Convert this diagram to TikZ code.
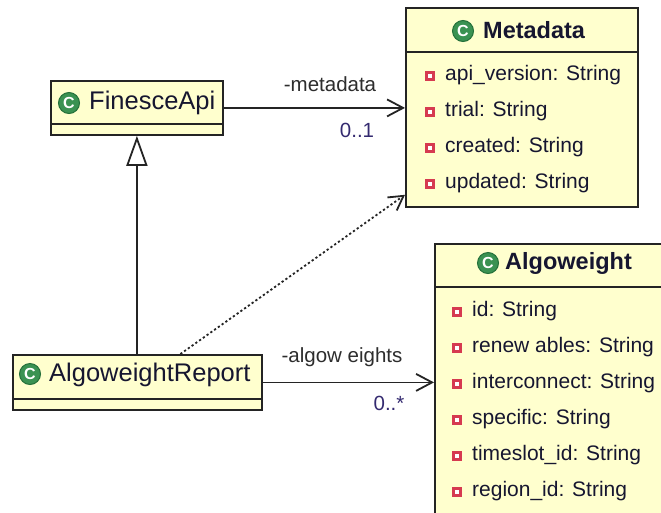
\documentclass[tikz,border=0pt]{standalone}
\usepackage{fontspec}
\setmainfont{Liberation Sans}
\usetikzlibrary{arrows.meta,calc}
\definecolor{boxfill}{RGB}{255,255,206}
\definecolor{boxline}{RGB}{36,36,36}
\definecolor{icongreen}{RGB}{58,146,82}
\definecolor{icondark}{RGB}{36,112,58}
\definecolor{attrred}{RGB}{214,58,80}
\definecolor{txt}{RGB}{22,22,48}
\definecolor{lbl}{RGB}{45,45,45}
\definecolor{mult}{RGB}{52,42,112}
\tikzset{
  classbox/.style={draw=boxline, fill=boxfill, line width=1.8pt, inner sep=0pt, anchor=north west},
  sepline/.style={draw=boxline, line width=1.8pt},
  titletext/.style={anchor=west, inner sep=0pt, text=txt, font=\fontsize{25.5}{30}\selectfont},
  boldtitle/.style={anchor=west, inner sep=0pt, text=txt, font=\fontsize{23.5}{28}\selectfont\bfseries},
  attrtext/.style={anchor=west, inner sep=0pt, text=txt, font=\fontsize{21}{25}\selectfont},
  lbltext/.style={inner sep=0pt, text=lbl, font=\fontsize{20.5}{25}\selectfont},
  multtext/.style={inner sep=0pt, text=mult, font=\fontsize{20.5}{25}\selectfont},
  classicon/.style={circle, fill=icongreen, draw=icondark, line width=1pt, minimum size=21pt, inner sep=0pt, text=white, font=\fontsize{16}{16}\selectfont\bfseries},
  attricon/.style={rectangle, fill=attrred, minimum size=10pt, inner sep=0pt,
    path picture={\fill[white] ([xshift=-2pt,yshift=-2pt]path picture bounding box.center) rectangle ([xshift=2pt,yshift=2pt]path picture bounding box.center);}},
  assoc/.style={draw=boxline, line width=1.8pt, -{Straight Barb[length=16pt,width=17pt,line width=1.8pt]}},
  generalize/.style={draw=boxline, line width=1.8pt, -{Triangle[open,length=30pt,width=21pt,line width=1.8pt,fill=white]}},
  depend/.style={draw=boxline, line width=1.8pt, dash pattern=on 2.2pt off 2.4pt, -{Straight Barb[length=14pt,width=16pt,line width=1.8pt]}},
}
\begin{document}
\begin{tikzpicture}[x=1pt,y=-1pt]
\path[use as bounding box] (0,0) rectangle (661,512);
\clip (0,0) rectangle (661,512);
\fill[white] (0,0) rectangle (661,512);

% FinesceApi
\node[classbox, minimum width=172pt, minimum height=54pt] (fin) at (50,80) {};
\draw[sepline] (50,124) -- (222,124);
\node[classicon] (finicon) at (69,103) {C};
\node[titletext] (fintitle) at (89,103) {FinesceApi};

% Metadata
\node[classbox, minimum width=232pt, minimum height=199pt] (meta) at (405,7) {};
\draw[sepline] (405,52) -- (637,52);
\node[classicon] (metaicon) at (463,31) {C};
\node[boldtitle] (metatitle) at (483,30) {Metadata};
\node[attricon] (ma1) at (430,76) {};
\node[attrtext] (mt1) at (445,75) {api\_version: String};
\node[attricon] (ma2) at (430,112) {};
\node[attrtext] (mt2) at (445,111) {trial: String};
\node[attricon] (ma3) at (430,148) {};
\node[attrtext] (mt3) at (445,147) {created: String};
\node[attricon] (ma4) at (430,184) {};
\node[attrtext] (mt4) at (445,183) {updated: String};

% AlgoweightReport
\node[classbox, minimum width=249pt, minimum height=55pt] (ar) at (12,354) {};
\draw[sepline] (12,399) -- (261,399);
\node[classicon] (aricon) at (30,374) {C};
\node[titletext] (artitle) at (49,375) {AlgoweightReport};

% Algoweight
\node[classbox, minimum width=260pt, minimum height=300pt] (aw) at (434,243) {};
\draw[sepline] (434,287) -- (694,287);
\node[classicon] (awicon) at (488,263) {C};
\node[boldtitle] (awtitle) at (505,263) {Algoweight};
\node[attricon] (wa1) at (457,312) {};
\node[attrtext] (wt1) at (472,311) {id: String};
\node[attricon] (wa2) at (457,348) {};
\node[attrtext] (wt2) at (472,347) {renew ables: String};
\node[attricon] (wa3) at (457,384) {};
\node[attrtext] (wt3) at (472,383) {interconnect: String};
\node[attricon] (wa4) at (457,420) {};
\node[attrtext] (wt4) at (472,419) {specific: String};
\node[attricon] (wa5) at (457,456) {};
\node[attrtext] (wt5) at (472,455) {timeslot\_id: String};
\node[attricon] (wa6) at (457,492) {};
\node[attrtext] (wt6) at (472,491) {region\_id: String};

% connectors
\draw[assoc] (fin.east) -- (fin.east -| meta.west);
\node[lbltext] (l1) at (330,84) {-metadata};
\node[multtext] (m1) at (357,130) {0..1};

\draw[generalize] (ar.north -| fin.south) -- (fin.south);

\coordinate (depstart) at ([xshift=43pt]ar.north);
\coordinate (depend) at ([yshift=13pt]meta.south west);
\draw[depend] (depstart) -- (depend);

\draw[assoc] (ar.east) -- (ar.east -| aw.west);
\node[lbltext] (l2) at (342,357) {-algow eights};
\node[multtext] (m2) at (389,403) {0..*};
\end{tikzpicture}
\end{document}
